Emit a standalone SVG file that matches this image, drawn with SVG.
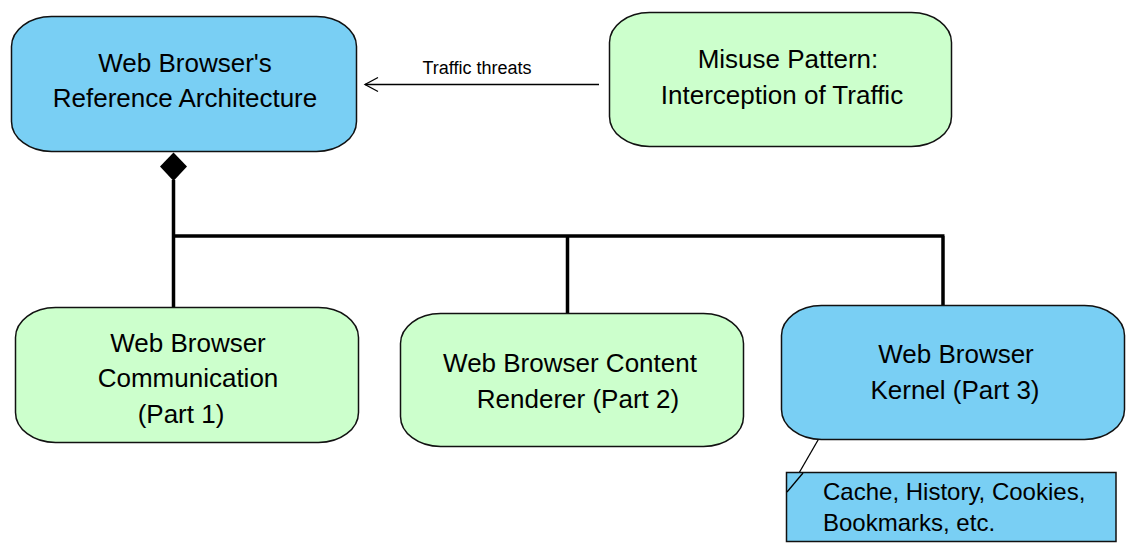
<svg xmlns="http://www.w3.org/2000/svg" width="1140" height="557" viewBox="0 0 1140 557">
<style>
.node{stroke:#111;stroke-width:1.5}
.blue{fill:#79CFF4}
.green{fill:#CCFFCC}
.t{font-family:"Liberation Sans",Arial,sans-serif;font-size:26px;fill:#000;text-anchor:middle}
.nt{font-family:"Liberation Sans",Arial,sans-serif;font-size:24px;fill:#000}
.lbl{font-family:"Liberation Sans",Arial,sans-serif;font-size:18px;fill:#000;text-anchor:middle}
.bold{stroke:#000;stroke-width:3.5;fill:none}
.thin{stroke:#000;stroke-width:1.3;fill:none}
</style>
<rect width="1140" height="557" fill="#fff"/>
<g id="connectors">
<polygon points="173.5,152.5 187,166.5 173.5,181 160,166.5" fill="#000"/>
<path class="bold" d="M173.5,180 V308 M172,236 H944.5 M567.5,236 V313 M943,236 V305"/>
<line class="thin" x1="599" y1="84.5" x2="365" y2="84.5"/>
<polyline class="thin" points="378,77.5 365,84.5 378,91.5"/>
<text class="lbl" x="477" y="74">Traffic threats</text>
<line class="thin" x1="819.5" y1="437.5" x2="799" y2="473"/>
</g>
<g id="node-reference">
<rect class="node blue" x="11.5" y="16.5" width="345" height="135" rx="40" ry="30"/>
<text class="t" x="185" y="72">Web Browser's</text>
<text class="t" x="185" y="107">Reference Architecture</text>
</g>
<g id="node-misuse">
<rect class="node green" x="609.5" y="12.5" width="342" height="134" rx="40" ry="30"/>
<text class="t" x="788" y="68">Misuse Pattern:</text>
<text class="t" x="782" y="104">Interception of Traffic</text>
</g>
<g id="node-communication">
<rect class="node green" x="15.5" y="307.5" width="343" height="135" rx="40" ry="30"/>
<text class="t" x="188" y="352">Web Browser</text>
<text class="t" x="188" y="387">Communication</text>
<text class="t" x="181" y="423">(Part 1)</text>
</g>
<g id="node-renderer">
<rect class="node green" x="400.5" y="313.5" width="343" height="133" rx="40" ry="30"/>
<text class="t" x="570" y="372">Web Browser Content</text>
<text class="t" x="578" y="408">Renderer (Part 2)</text>
</g>
<g id="node-kernel">
<rect class="node blue" x="781.5" y="305.5" width="343" height="134" rx="40" ry="30"/>
<text class="t" x="956" y="363">Web Browser</text>
<text class="t" x="955" y="399">Kernel (Part 3)</text>
</g>
<g id="note-kernel">
<rect class="node blue" x="786.5" y="472.5" width="329.5" height="69"/>
<line class="thin" x1="787" y1="492" x2="803" y2="473"/>
<text class="nt" x="823" y="500">Cache, History, Cookies,</text>
<text class="nt" x="823" y="531">Bookmarks, etc.</text>
</g>
</svg>
